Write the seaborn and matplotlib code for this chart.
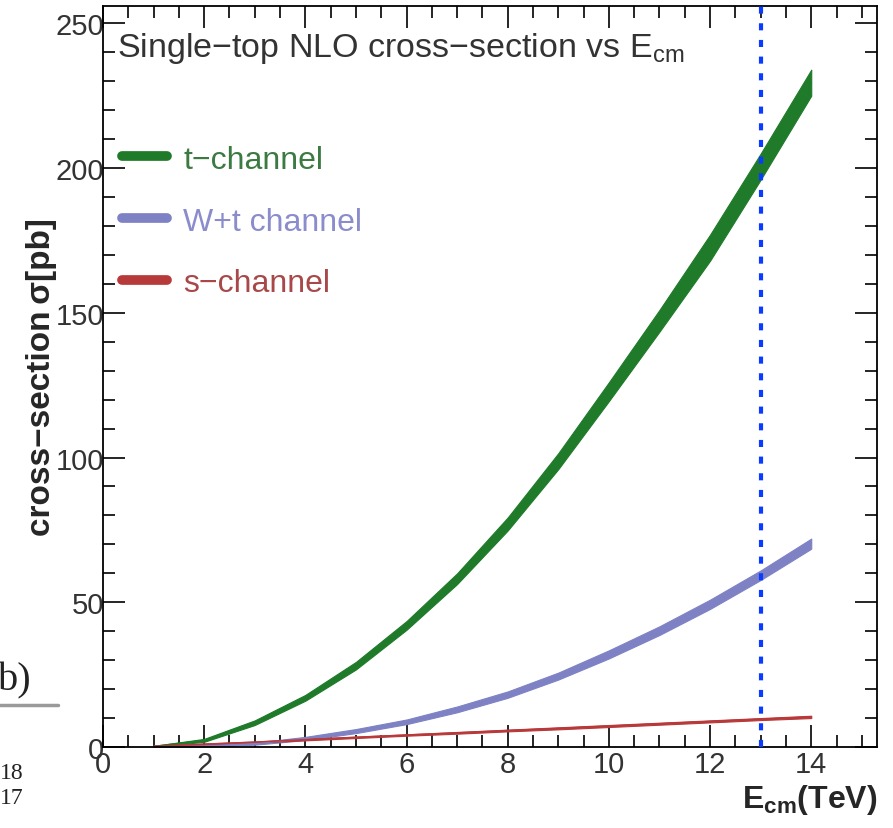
import matplotlib
matplotlib.use("Agg")
import matplotlib.pyplot as plt
import seaborn as sns
import pandas as pd
from matplotlib.ticker import MultipleLocator
from matplotlib.lines import Line2D

# ---- data ----
energy = [1, 2, 3, 4, 5, 6, 7, 8, 9, 10, 11, 12, 13, 14]
t_lo = [0.0, 1.8, 7.6, 16.0, 26.8, 40.5, 56.3, 74.8, 96.0, 119.5, 143.5, 168.0, 196.0, 225.0]
t_hi = [0.4, 2.8, 9.2, 18.0, 29.4, 43.5, 60.0, 79.3, 101.5, 126.0, 151.0, 177.0, 205.0, 234.0]
wt_lo = [0.0, 0.1, 0.8, 2.4, 4.8, 7.9, 12.0, 17.0, 23.3, 30.6, 38.7, 47.7, 57.7, 68.5]
wt_hi = [0.2, 0.5, 1.5, 3.5, 6.2, 9.5, 14.0, 19.2, 25.7, 33.4, 41.7, 50.9, 61.0, 72.0]
s_lo = [0.1, 0.8, 1.5, 2.3, 3.1, 3.9, 4.6, 5.4, 6.1, 6.9, 7.7, 8.5, 9.3, 10.0]
s_hi = [0.4, 1.2, 1.9, 2.8, 3.6, 4.4, 5.2, 6.0, 6.8, 7.6, 8.4, 9.2, 10.0, 10.8]
series_names = ["t\u2212channel", "W+t channel", "s\u2212channel"]
band_colors = ["#1f7a2a", "#7e82c4", "#b8393a"]
text_colors = ["#3c7a42", "#8a8ccc", "#a84848"]
lhc_energy = 13
x_ticks = [0, 2, 4, 6, 8, 10, 12, 14]
y_ticks = [0, 50, 100, 150, 200, 250]

df = pd.DataFrame({
    "E": energy * 3,
    "lo": t_lo + wt_lo + s_lo,
    "hi": t_hi + wt_hi + s_hi,
    "channel": [series_names[0]] * 14 + [series_names[1]] * 14 + [series_names[2]] * 14,
})
df["mid"] = (df["lo"] + df["hi"]) / 2

sns.set_theme(style="ticks")
plt.rcParams["font.family"] = ["Liberation Sans", "DejaVu Sans"]
plt.rcParams["mathtext.fontset"] = "custom"
plt.rcParams["mathtext.rm"] = "Liberation Sans"
plt.rcParams["mathtext.bf"] = "Liberation Sans:bold"

fig = plt.figure(figsize=(8.93, 8.29), dpi=100)
ax = fig.add_axes([103 / 893, 1 - 748 / 829, (877 - 103) / 893, (748 - 7) / 829])

for name, col in zip(series_names, band_colors):
    sub = df[df["channel"] == name]
    ax.fill_between(sub["E"], sub["lo"], sub["hi"], color=col, lw=0.8, ec=col)
sns.lineplot(data=df, x="E", y="mid", hue="channel", palette=band_colors,
             ax=ax, legend=False, lw=1.0, estimator=None)

ax.axvline(lhc_energy, color="#0a3cff", ls=(0, (1.7, 2.3)), lw=3.0, zorder=5)

ax.set_xlim(0, 15.3)
ax.set_ylim(0, 256)
ax.set_xticks(x_ticks)
ax.set_yticks(y_ticks)
ax.xaxis.set_minor_locator(MultipleLocator(0.5))
ax.yaxis.set_minor_locator(MultipleLocator(10))
for sp in ax.spines.values():
    sp.set_linewidth(1.3)
    sp.set_color("black")
ax.tick_params(which="both", direction="in", top=True, right=True, width=1.2, color="black")
ax.tick_params(which="major", length=16)
ax.tick_params(which="minor", length=8.5)
ax.tick_params(axis="x", which="major", labelsize=21, pad=2, labelcolor="#333333")
ax.tick_params(axis="y", which="major", labelsize=21, pad=-1, labelcolor="#333333")

ax.set_xlabel(r"$\mathbf{E_{cm}}$(TeV)", fontsize=23, fontweight="bold", loc="right", labelpad=3)
ax.set_ylabel("cross\u2212section\u2009\u03c3[pb]", fontsize=24, fontweight="bold", labelpad=-1)

ax.text(0.018, 0.968, r"Single$-$top NLO cross$-$section vs E$_{\mathrm{cm}}$",
        transform=ax.transAxes, fontsize=24.5, color="#333333", va="top", ha="left")

handles = [Line2D([0], [0], color=c, lw=7) for c in band_colors]
leg = ax.legend(handles, series_names, loc="upper left", bbox_to_anchor=(0.025, 0.813),
                frameon=False, fontsize=23, handlelength=1.4, handletextpad=0.5,
                labelspacing=1.0, borderpad=0, borderaxespad=0)
for txt, c in zip(leg.get_texts(), text_colors):
    txt.set_color(c)

# cropped-page remnants at the left edge
fig.text(-0.002, 1 - 690 / 829, "b)", fontsize=29, family="Liberation Serif", color="#222222")
fig.add_artist(Line2D([0, 58 / 893], [1 - 706 / 829] * 2, color="#9a9a9a", lw=2.5))
fig.text(0.0, 1 - 779 / 829, "18", fontsize=17, family="Liberation Serif", color="#222222")
fig.text(0.0, 1 - 804 / 829, "17", fontsize=17, family="Liberation Serif", color="#222222")
fig.text(0.014, 1 - 845 / 829, "1", fontsize=17, family="Liberation Serif", color="#222222")

fig.savefig("out.png", dpi=100)
